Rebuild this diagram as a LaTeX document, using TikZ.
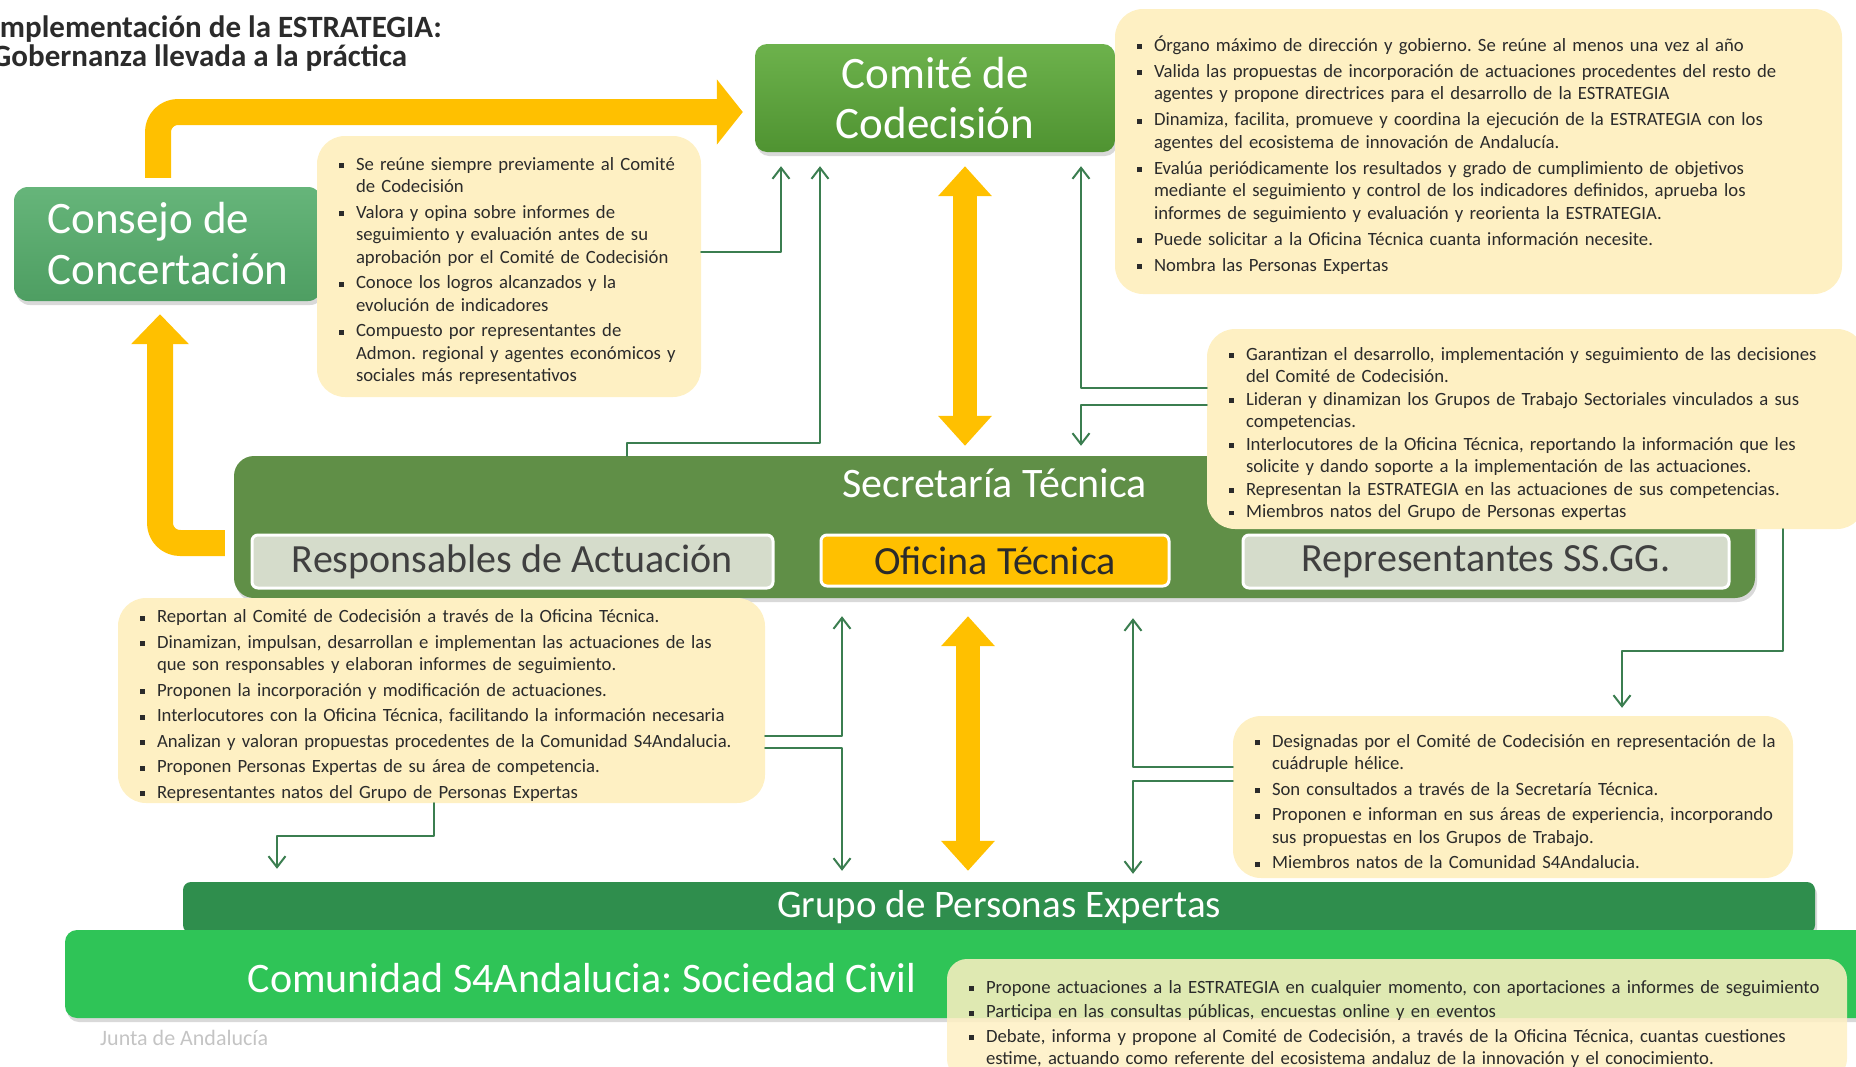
\documentclass[tikz,border=0pt]{standalone}
\usepackage{fontspec}
\setmainfont{Carlito}
\usetikzlibrary{arrows.meta,shadows}

\definecolor{comtop}{HTML}{6DB24C}
\definecolor{combot}{HTML}{4F9331}
\definecolor{contop}{HTML}{66B57A}
\definecolor{conbot}{HTML}{4E9E62}
\definecolor{secgreen}{HTML}{608F47}
\definecolor{grpgreen}{HTML}{2F8E4D}
\definecolor{civgreen}{HTML}{2FC457}
\definecolor{gold}{HTML}{FFC000}
\definecolor{notefill}{HTML}{FEF0C3}
\definecolor{subfill}{HTML}{D5DCCB}
\definecolor{linkgreen}{HTML}{3B7E50}
\definecolor{txtdark}{HTML}{2B2B2B}
\definecolor{txtgrey}{HTML}{404040}
\definecolor{juntagrey}{HTML}{C4C4C4}

\frenchspacing
\newenvironment{bul}[1][3pt]{\begin{list}{\rule[2pt]{5pt}{5pt}}{%
  \setlength{\leftmargin}{19pt}\setlength{\labelwidth}{7pt}%
  \setlength{\labelsep}{12pt}\setlength{\itemsep}{#1}%
  \setlength{\rightmargin}{-16pt}%
  \setlength{\parsep}{0pt}\setlength{\topsep}{0pt}%
  \setlength{\partopsep}{0pt}\setlength{\itemindent}{0pt}}}{\end{list}}

\begin{document}
\begin{tikzpicture}[x=1pt,y=-1pt,line cap=round,line join=round,
  box/.style={rounded corners=12pt,text=white,align=center,inner sep=0pt,
    drop shadow={shadow xshift=2pt,shadow yshift=-4pt,opacity=0.3}},
  subbox/.style={rounded corners=6pt,draw=white,line width=3pt,inner sep=0pt,
    font=\fontsize{40}{48}\selectfont},
  note/.style={fill=notefill,rounded corners=28pt,inner xsep=20pt,inner ysep=0pt,
    text=txtdark,align=left,font=\fontsize{18.7}{22.5}\selectfont},
  ybar/.style={draw=gold,line width=26pt,line cap=butt,rounded corners=20pt},
  dbar/.style={draw=gold,line width=24pt,line cap=butt,
    arrows={Triangle[length=30pt,width=52pt]-Triangle[length=30pt,width=52pt]}},
  link/.style={draw=linkgreen,line width=2pt,-{Straight Barb[length=11pt,width=17pt]}}]
  \useasboundingbox (0,0) rectangle (1856,1066);

  % title
  \node[anchor=base west,inner sep=0pt,text=txtdark,font=\bfseries\fontsize{31}{34}\selectfont] (title1) at (-8.5,37.5) {Implementación de la ESTRATEGIA:};
  \node[anchor=base west,inner sep=0pt,text=txtdark,font=\bfseries\fontsize{31}{34}\selectfont] (title2) at (-8.5,66) {Gobernanza llevada a la práctica};

  % organs
  \node[box,minimum width=360pt,minimum height=108pt,top color=comtop,bottom color=combot,
    font=\fontsize{45}{50}\selectfont] (comite) at (935,98) {Comité de\\Codecisión};
  \node[box,align=left,rounded corners=14pt,minimum width=308pt,minimum height=114pt,
    top color=contop,bottom color=conbot,font=\fontsize{45}{51}\selectfont] (consejo) at (168,244) {Consejo de\\Concertación};
  \node[box,rounded corners=20pt,minimum width=1521pt,minimum height=142pt,fill=secgreen] (secre) at (994.5,527) {};
  \node[text=white,font=\fontsize{42}{48}\selectfont] (sectitle) at ([yshift=-27pt]secre.north) {Secretaría Técnica};
  \node[subbox,fill=subfill,text=txtgrey,minimum width=521pt,minimum height=53pt] (resp) at (512.5,561.5) {Responsables de Actuación};
  \node[subbox,fill=gold,text=txtdark,minimum width=348pt,minimum height=51pt] (ofi) at (995,560.5) {Oficina Técnica};
  \node[subbox,fill=subfill,text=txtgrey,minimum width=486pt,minimum height=53pt] (repr) at (1486,561.5) {Representantes SS.GG.};
  \node[box,rounded corners=8pt,minimum width=1632pt,minimum height=51pt,fill=grpgreen,
    font=\fontsize{39}{44}\selectfont] (grupo) at (999,907.5) {Grupo de Personas Expertas};
  \node[box,minimum width=1815pt,minimum height=88pt,fill=civgreen] (civil) at (972.5,974) {};
  \node[text=white,font=\fontsize{42}{48}\selectfont] (civiltitle) at (582,978) {Comunidad S4Andalucia: Sociedad Civil};
  \node[anchor=west,inner sep=0pt,text=juntagrey,font=\fontsize{22}{26}\selectfont] (junta) at (100,1038) {Junta de Andalucía};

  % notes
  \node[note,minimum width=384pt,minimum height=261pt,text width=344pt] (nconsejo) at (509,266.5) {%
    \begin{bul}
    \item Se reúne siempre previamente al Comité\newline de Codecisión
    \item Valora y opina sobre informes de\newline seguimiento  y evaluación antes de su\newline aprobación por el Comité de Codecisión
    \item Conoce los logros alcanzados y la\newline evolución de indicadores
    \item Compuesto por representantes de\newline Admon. regional y agentes económicos y\newline sociales más representativos
    \end{bul}};
  \node[note,minimum width=727pt,minimum height=285pt,text width=687pt] (ncomite) at (1478.5,151.5) {%
    \begin{bul}[3.5pt]
    \item Órgano máximo de dirección y gobierno. Se reúne al menos una vez al año
    \item Valida las propuestas de incorporación de actuaciones procedentes del resto de\newline agentes y propone directrices para el desarrollo de la ESTRATEGIA
    \item Dinamiza, facilita, promueve y coordina la ejecución de la ESTRATEGIA con los\newline agentes del ecosistema de innovación de Andalucía.
    \item Evalúa periódicamente los resultados y grado de cumplimiento de objetivos\newline mediante el seguimiento y control de los indicadores definidos, aprueba los\newline informes de seguimiento y evaluación y reorienta la ESTRATEGIA.
    \item Puede solicitar a la Oficina Técnica cuanta información necesite.
    \item Nombra las Personas Expertas
    \end{bul}};
  \node[note,minimum width=658pt,minimum height=200pt,text width=618pt] (nrepr) at (1536,429) {%
    \begin{bul}[0pt]
    \item Garantizan el desarrollo, implementación y seguimiento de las decisiones\newline del Comité de Codecisión.
    \item Lideran y dinamizan los Grupos de Trabajo Sectoriales vinculados a sus\newline competencias.
    \item Interlocutores de la Oficina Técnica, reportando la información que les\newline solicite y dando soporte a la implementación de las actuaciones.
    \item Representan la ESTRATEGIA en las actuaciones de sus competencias.
    \item Miembros natos del Grupo de Personas expertas
    \end{bul}};
  \node[note,minimum width=647pt,minimum height=205pt,text width=607pt] (nresp) at (441.5,700.5) {%
    \begin{bul}
    \item Reportan al Comité de Codecisión a través de la Oficina Técnica.
    \item Dinamizan, impulsan, desarrollan e implementan las actuaciones de las\newline que son responsables y elaboran informes de seguimiento.
    \item Proponen la incorporación y modificación de actuaciones.
    \item Interlocutores con la Oficina Técnica, facilitando la información necesaria
    \item Analizan y valoran propuestas procedentes de la Comunidad S4Andalucia.
    \item Proponen Personas Expertas de su área de competencia.
    \item Representantes natos del Grupo de Personas Expertas
    \end{bul}};
  \node[note,minimum width=560pt,minimum height=162pt,text width=520pt] (nsgg) at (1513,797) {%
    \begin{bul}
    \item Designadas por el Comité de Codecisión en representación de la\newline cuádruple hélice.
    \item Son consultados a través de la Secretaría Técnica.
    \item Proponen e informan en sus áreas de experiencia, incorporando\newline sus propuestas en los Grupos de Trabajo.
    \item Miembros natos de la Comunidad S4Andalucia.
    \end{bul}};
  \node[note,rounded corners=20pt,fill opacity=0.85,text opacity=1,minimum width=900pt,minimum height=120pt,text width=860pt] (ncivil) at (1397,1019) {%
    \begin{bul}[2pt]
    \item Propone actuaciones a la ESTRATEGIA en cualquier momento, con aportaciones a informes de seguimiento
    \item Participa en las consultas públicas, encuestas online y en eventos
    \item Debate, informa y propone al Comité de Codecisión, a través de la Oficina Técnica, cuantas cuestiones\newline estime, actuando como referente del ecosistema andaluz de la innovación y el conocimiento.
    \end{bul}};

  % yellow arrows
  \draw[ybar,-{Triangle[length=26pt,width=64pt]},shorten <=9pt,shorten >=12pt] (158,0 |- consejo.north) |- (comite.west |- 0,112);
  \draw[ybar,-{Triangle[length=30pt,width=56pt]},shorten <=9pt,shorten >=13pt] (secre.west |- 0,543) -| (160,0 |- consejo.south);
  \draw[dbar,shorten <=14pt,shorten >=10pt] (965,0 |- comite.south) -- (965,0 |- secre.north);
  \draw[dbar,shorten <=18pt,shorten >=11pt] (968,0 |- secre.south) -- (968,0 |- grupo.north);

  % green links
  \draw[link,shorten >=14pt] (nconsejo.east |- 0,252) -| (781,0 |- comite.south);
  \draw[link,shorten >=14pt] (627,0 |- secre.north) |- (820,443) -- (820,0 |- comite.south);
  \draw[link,shorten >=14pt] (nrepr.west |- 0,388) -| (1081,0 |- comite.south);
  \draw[link,shorten >=10pt] (nrepr.west |- 0,405) -| (1081,0 |- secre.north);
  \draw[link,shorten >=8pt] (1783,0 |- nrepr.south) |- (1622,651) -- (1622,0 |- nsgg.north);
  \draw[link,shorten >=18pt] (nresp.east |- 0,736) -| (842,0 |- secre.south);
  \draw[link,shorten >=11pt] (nresp.east |- 0,748) -| (842,0 |- grupo.north);
  \draw[link,shorten >=13pt] (434,0 |- nresp.south) |- (277,836) -- (277,0 |- grupo.north);
  \draw[link,shorten >=20pt] (nsgg.west |- 0,767) -| (1133,0 |- secre.south);
  \draw[link,shorten >=8pt] (nsgg.west |- 0,781) -| (1133,0 |- grupo.north);
\end{tikzpicture}
\end{document}
